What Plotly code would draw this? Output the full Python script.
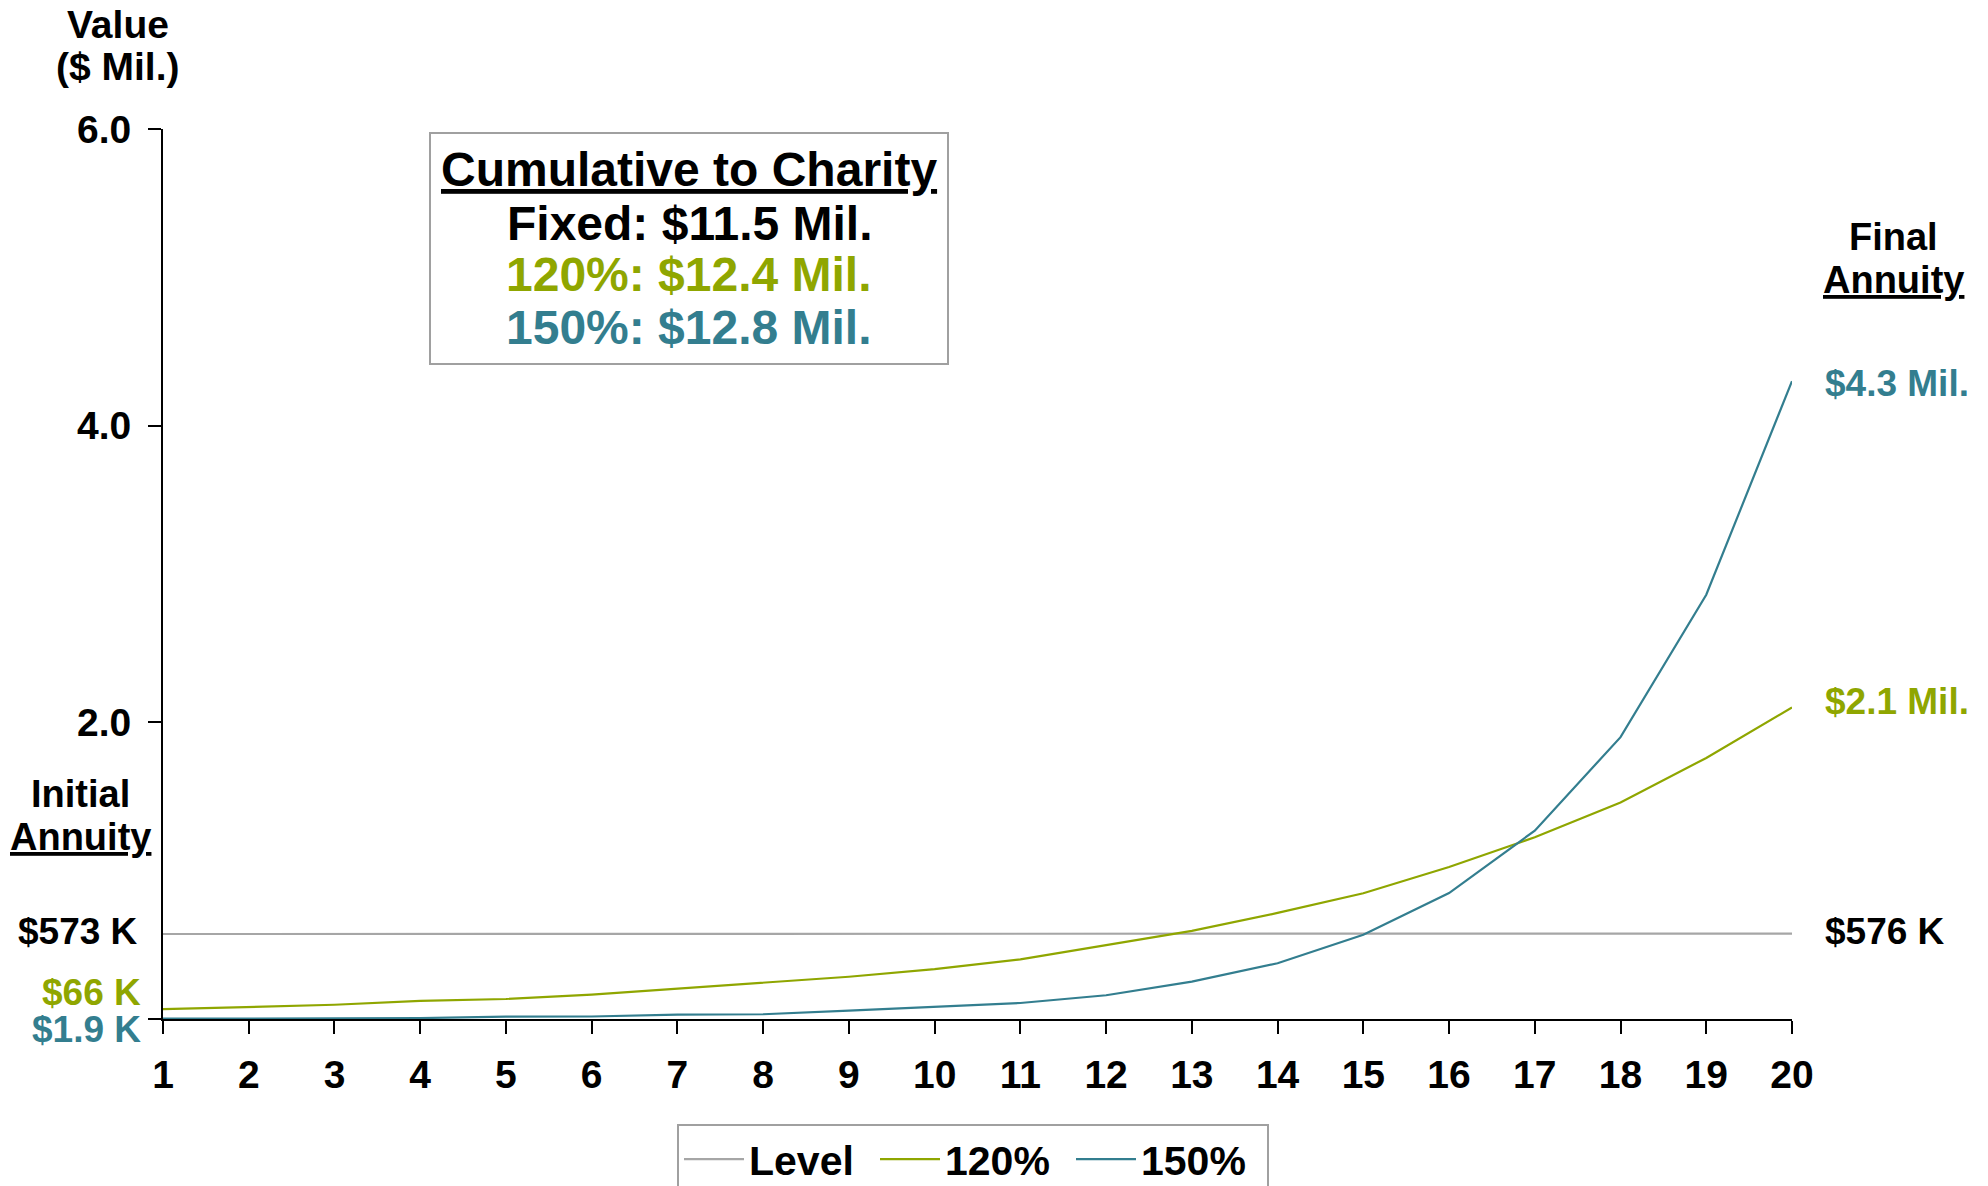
import plotly.graph_objects as go

years = list(range(1, 21))
level = [0.573, 0.573, 0.573, 0.573, 0.574, 0.574, 0.574, 0.574, 0.574, 0.574,
         0.575, 0.575, 0.575, 0.575, 0.575, 0.575, 0.576, 0.576, 0.576, 0.576]
pct120 = [0.066, 0.083, 0.096, 0.122, 0.135, 0.165, 0.205, 0.246, 0.285, 0.336,
          0.402, 0.498, 0.594, 0.715, 0.848, 1.025, 1.225, 1.46, 1.76, 2.1]
pct150 = [0.0019, 0.003, 0.004, 0.006, 0.016, 0.017, 0.030, 0.032, 0.056, 0.083,
          0.108, 0.160, 0.252, 0.376, 0.568, 0.849, 1.27, 1.90, 2.86, 4.3]
series_names = ["Level", "120%", "150%"]
ytick_vals = [0, 2, 4, 6]
ytick_text = ["", "2.0", "4.0", "6.0"]

GRAY = "#A6A6A6"
GREEN = "#8FA600"
TEAL = "#337E8F"
FONT = "Liberation Sans, Arial, sans-serif"

W, H = 1988, 1186
L, R, T, B = 163, 1792, 129, 1019


def px(X):
    return (X - L) / (R - L)


def py(Y):
    return (B - Y) / (B - T)


fig = go.Figure()
for name, vals, col in zip(series_names, [level, pct120, pct150], [GRAY, GREEN, TEAL]):
    fig.add_trace(go.Scatter(x=years, y=vals, mode="lines", name=name,
                             line=dict(color=col, width=2.2)))

ann = []


def add(text, X, Y, color="black", size=37, xanchor="center"):
    ann.append(dict(text=text, x=px(X), y=py(Y), xref="paper", yref="paper",
                    xanchor=xanchor, yanchor="middle", showarrow=False,
                    font=dict(family=FONT, size=size, color=color, weight="bold")))


add("Value", 118, 24, size=39)
add("($ Mil.)", 118, 67, size=39)
add("<u>Cumulative to Charity</u>", 689, 169, size=48)
add("Fixed: $11.5 Mil.", 689, 223, size=48)
add("120%: $12.4 Mil.", 689, 274, color=GREEN, size=48)
add("150%: $12.8 Mil.", 689, 327, color=TEAL, size=48)
add("Final", 1893, 237, size=38)
add("<u>Annuity</u>", 1893, 280, size=38)
add("$4.3 Mil.", 1823, 383, color=TEAL, xanchor="left")
add("$2.1 Mil.", 1823, 701, color=GREEN, xanchor="left")
add("$576 K", 1823, 931, xanchor="left")
add("Initial", 80, 794, size=38)
add("<u>Annuity</u>", 80, 837, size=38)
add("$573 K", 140, 931, xanchor="right")
add("$66 K", 143, 992, color=GREEN, xanchor="right")
add("$1.9 K", 143, 1029, color=TEAL, xanchor="right")

shapes = [dict(type="rect", xref="paper", yref="paper",
               x0=px(430), x1=px(948), y0=py(133), y1=py(364),
               line=dict(color="#A0A0A0", width=2), fillcolor="white", layer="below")]

fig.update_layout(
    width=W, height=H,
    margin=dict(l=L, r=W - R, t=T, b=H - B, pad=0, autoexpand=False),
    paper_bgcolor="white", plot_bgcolor="white",
    font=dict(family=FONT, size=39, color="black"),
    showlegend=True,
    legend=dict(orientation="h", x=px(677), xanchor="left", y=py(1124), yanchor="top",
                bordercolor="#A0A0A0", borderwidth=2, bgcolor="white",
                itemwidth=60, entrywidth=121, entrywidthmode="pixels",
                font=dict(family=FONT, size=41, color="black", weight="bold")),
    annotations=ann,
    shapes=shapes,
    xaxis=dict(range=[1, 20], tickmode="array", tickvals=years, ticks="outside",
               ticklen=13, tickwidth=2, tickcolor="black", showline=True,
               linecolor="black", linewidth=2, showgrid=False, zeroline=False,
               ticklabelstandoff=7,
               tickfont=dict(family=FONT, size=39, color="black", weight="bold")),
    yaxis=dict(range=[0, 6], tickmode="array", tickvals=ytick_vals, ticktext=ytick_text,
               ticks="outside", ticklen=13, tickwidth=2, tickcolor="black",
               showline=True, linecolor="black", linewidth=2, showgrid=False,
               zeroline=False, ticklabelstandoff=9,
               tickfont=dict(family=FONT, size=39, color="black", weight="bold")),
)

fig.write_html("out.html")
